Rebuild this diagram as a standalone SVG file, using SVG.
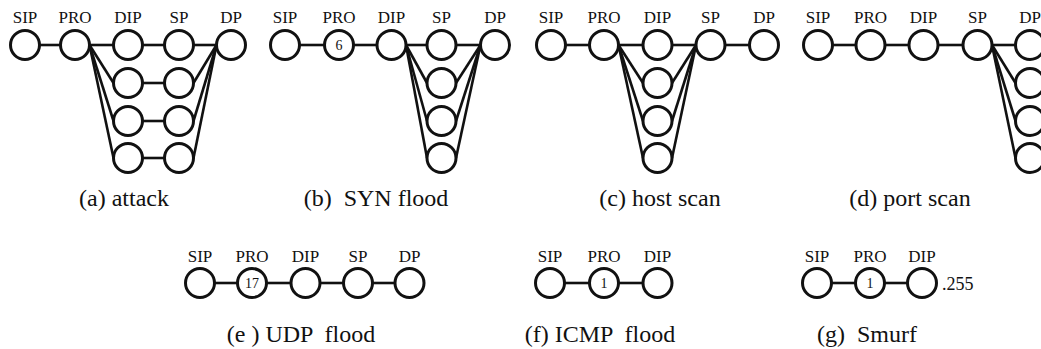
<svg xmlns="http://www.w3.org/2000/svg" width="1041" height="349" viewBox="0 0 1041 349">
<style>
.n{fill:#fff;stroke:#111;stroke-width:3}
.e line{stroke:#111;stroke-width:2.6}
.lb{font-family:"Liberation Serif",serif;font-size:17px;fill:#111;text-anchor:middle}
.num{font-family:"Liberation Serif",serif;font-size:14px;fill:#111;text-anchor:middle}
.cap{font-family:"Liberation Serif",serif;font-size:24px;fill:#111;text-anchor:middle;white-space:pre}
</style>
<rect width="1041" height="349" fill="#fff"/>
<g id="connectors" class="e">
<!-- a -->
<line x1="39.5" y1="45" x2="60.5" y2="45"/>
<line x1="89.5" y1="45" x2="113.5" y2="45"/>
<line x1="89.5" y1="45" x2="113.5" y2="83"/>
<line x1="89.5" y1="45" x2="113.5" y2="121"/>
<line x1="89.5" y1="45" x2="113.5" y2="158"/>
<line x1="142.5" y1="45" x2="164.5" y2="45"/>
<line x1="142.5" y1="83" x2="164.5" y2="83"/>
<line x1="142.5" y1="121" x2="164.5" y2="121"/>
<line x1="142.5" y1="158" x2="164.5" y2="158"/>
<line x1="193.5" y1="45" x2="216.5" y2="45"/>
<line x1="193.5" y1="83" x2="216.5" y2="45"/>
<line x1="193.5" y1="121" x2="216.5" y2="45"/>
<line x1="193.5" y1="158" x2="216.5" y2="45"/>
<!-- b -->
<line x1="299.5" y1="45" x2="324.5" y2="45"/>
<line x1="353.5" y1="45" x2="377" y2="45"/>
<line x1="406" y1="45" x2="427" y2="45"/>
<line x1="406" y1="45" x2="427" y2="83"/>
<line x1="406" y1="45" x2="427" y2="121"/>
<line x1="406" y1="45" x2="427" y2="158"/>
<line x1="456" y1="45" x2="480.5" y2="45"/>
<line x1="456" y1="83" x2="480.5" y2="45"/>
<line x1="456" y1="121" x2="480.5" y2="45"/>
<line x1="456" y1="158" x2="480.5" y2="45"/>
<!-- c -->
<line x1="565.5" y1="45" x2="589.5" y2="45"/>
<line x1="618.5" y1="45" x2="643" y2="45"/>
<line x1="618.5" y1="45" x2="643" y2="83"/>
<line x1="618.5" y1="45" x2="643" y2="121"/>
<line x1="618.5" y1="45" x2="643" y2="158"/>
<line x1="672" y1="45" x2="696" y2="45"/>
<line x1="672" y1="83" x2="696" y2="45"/>
<line x1="672" y1="121" x2="696" y2="45"/>
<line x1="672" y1="158" x2="696" y2="45"/>
<line x1="725" y1="45" x2="749.5" y2="45"/>
<!-- d -->
<line x1="832.5" y1="45" x2="856" y2="45"/>
<line x1="885" y1="45" x2="909" y2="45"/>
<line x1="938" y1="45" x2="963" y2="45"/>
<line x1="992" y1="45" x2="1015.5" y2="45"/>
<line x1="992" y1="45" x2="1015.5" y2="83"/>
<line x1="992" y1="45" x2="1015.5" y2="121"/>
<line x1="992" y1="45" x2="1015.5" y2="158"/>
<!-- e -->
<line x1="214.5" y1="283" x2="237.5" y2="283"/>
<line x1="266.5" y1="283" x2="291" y2="283"/>
<line x1="320" y1="283" x2="343.5" y2="283"/>
<line x1="372.5" y1="283" x2="395" y2="283"/>
<!-- f -->
<line x1="564.5" y1="283" x2="589.5" y2="283"/>
<line x1="618.5" y1="283" x2="643" y2="283"/>
<!-- g -->
<line x1="831.5" y1="283" x2="855.5" y2="283"/>
<line x1="884.5" y1="283" x2="907.5" y2="283"/>
</g>

<!-- panel a -->
<g id="a-sip"><circle class="n" cx="25" cy="45" r="14.5"/><text class="lb" x="25" y="23">SIP</text></g>
<g id="a-pro"><circle class="n" cx="75" cy="45" r="14.5"/><text class="lb" x="75" y="23">PRO</text></g>
<g id="a-dip1"><circle class="n" cx="128" cy="45" r="14.5"/><text class="lb" x="128" y="23">DIP</text></g>
<g id="a-dip2"><circle class="n" cx="128" cy="83" r="14.5"/></g>
<g id="a-dip3"><circle class="n" cx="128" cy="121" r="14.5"/></g>
<g id="a-dip4"><circle class="n" cx="128" cy="158" r="14.5"/></g>
<g id="a-sp1"><circle class="n" cx="179" cy="45" r="14.5"/><text class="lb" x="179" y="23">SP</text></g>
<g id="a-sp2"><circle class="n" cx="179" cy="83" r="14.5"/></g>
<g id="a-sp3"><circle class="n" cx="179" cy="121" r="14.5"/></g>
<g id="a-sp4"><circle class="n" cx="179" cy="158" r="14.5"/></g>
<g id="a-dp"><circle class="n" cx="231" cy="45" r="14.5"/><text class="lb" x="231" y="23">DP</text></g>
<text class="cap" x="124" y="206">(a) attack</text>

<!-- panel b -->
<g id="b-sip"><circle class="n" cx="285" cy="45" r="14.5"/><text class="lb" x="285" y="23">SIP</text></g>
<g id="b-pro"><circle class="n" cx="339" cy="45" r="14.5"/><text class="lb" x="339" y="23">PRO</text><text class="num" x="339" y="50">6</text></g>
<g id="b-dip"><circle class="n" cx="391.5" cy="45" r="14.5"/><text class="lb" x="391.5" y="23">DIP</text></g>
<g id="b-sp1"><circle class="n" cx="441.5" cy="45" r="14.5"/><text class="lb" x="441.5" y="23">SP</text></g>
<g id="b-sp2"><circle class="n" cx="441.5" cy="83" r="14.5"/></g>
<g id="b-sp3"><circle class="n" cx="441.5" cy="121" r="14.5"/></g>
<g id="b-sp4"><circle class="n" cx="441.5" cy="158" r="14.5"/></g>
<g id="b-dp"><circle class="n" cx="495" cy="45" r="14.5"/><text class="lb" x="495" y="23">DP</text></g>
<text class="cap" x="376" y="206">(b)  SYN flood</text>

<!-- panel c -->
<g id="c-sip"><circle class="n" cx="551" cy="45" r="14.5"/><text class="lb" x="551" y="23">SIP</text></g>
<g id="c-pro"><circle class="n" cx="604" cy="45" r="14.5"/><text class="lb" x="604" y="23">PRO</text></g>
<g id="c-dip1"><circle class="n" cx="657.5" cy="45" r="14.5"/><text class="lb" x="657.5" y="23">DIP</text></g>
<g id="c-dip2"><circle class="n" cx="657.5" cy="83" r="14.5"/></g>
<g id="c-dip3"><circle class="n" cx="657.5" cy="121" r="14.5"/></g>
<g id="c-dip4"><circle class="n" cx="657.5" cy="158" r="14.5"/></g>
<g id="c-sp"><circle class="n" cx="710.5" cy="45" r="14.5"/><text class="lb" x="710.5" y="23">SP</text></g>
<g id="c-dp"><circle class="n" cx="764" cy="45" r="14.5"/><text class="lb" x="764" y="23">DP</text></g>
<text class="cap" x="660" y="206">(c) host scan</text>

<!-- panel d -->
<g id="d-sip"><circle class="n" cx="818" cy="45" r="14.5"/><text class="lb" x="818" y="23">SIP</text></g>
<g id="d-pro"><circle class="n" cx="870.5" cy="45" r="14.5"/><text class="lb" x="870.5" y="23">PRO</text></g>
<g id="d-dip"><circle class="n" cx="923.5" cy="45" r="14.5"/><text class="lb" x="923.5" y="23">DIP</text></g>
<g id="d-sp"><circle class="n" cx="977.5" cy="45" r="14.5"/><text class="lb" x="977.5" y="23">SP</text></g>
<g id="d-dp1"><circle class="n" cx="1030" cy="45" r="14.5"/><text class="lb" x="1030" y="23">DP</text></g>
<g id="d-dp2"><circle class="n" cx="1030" cy="83" r="14.5"/></g>
<g id="d-dp3"><circle class="n" cx="1030" cy="121" r="14.5"/></g>
<g id="d-dp4"><circle class="n" cx="1030" cy="158" r="14.5"/></g>
<text class="cap" x="910" y="206">(d) port scan</text>

<!-- panel e -->
<g id="e-sip"><circle class="n" cx="200" cy="283" r="14.5"/><text class="lb" x="200" y="262">SIP</text></g>
<g id="e-pro"><circle class="n" cx="252" cy="283" r="14.5"/><text class="lb" x="252" y="262">PRO</text><text class="num" x="252" y="288">17</text></g>
<g id="e-dip"><circle class="n" cx="305.5" cy="283" r="14.5"/><text class="lb" x="305.5" y="262">DIP</text></g>
<g id="e-sp"><circle class="n" cx="358" cy="283" r="14.5"/><text class="lb" x="358" y="262">SP</text></g>
<g id="e-dp"><circle class="n" cx="409.5" cy="283" r="14.5"/><text class="lb" x="409.5" y="262">DP</text></g>
<text class="cap" x="301" y="342">(e ) UDP  flood</text>

<!-- panel f -->
<g id="f-sip"><circle class="n" cx="550" cy="283" r="14.5"/><text class="lb" x="550" y="262">SIP</text></g>
<g id="f-pro"><circle class="n" cx="604" cy="283" r="14.5"/><text class="lb" x="604" y="262">PRO</text><text class="num" x="604" y="288">1</text></g>
<g id="f-dip"><circle class="n" cx="657.5" cy="283" r="14.5"/><text class="lb" x="657.5" y="262">DIP</text></g>
<text class="cap" x="600" y="342">(f) ICMP  flood</text>

<!-- panel g -->
<g id="g-sip"><circle class="n" cx="817" cy="283" r="14.5"/><text class="lb" x="817" y="262">SIP</text></g>
<g id="g-pro"><circle class="n" cx="870" cy="283" r="14.5"/><text class="lb" x="870" y="262">PRO</text><text class="num" x="870" y="288">1</text></g>
<g id="g-dip"><circle class="n" cx="922" cy="283" r="14.5"/><text class="lb" x="922" y="262">DIP</text><text class="lb" x="942" y="290" style="text-anchor:start;font-size:18px">.255</text></g>
<text class="cap" x="867" y="342">(g)  Smurf</text>
</svg>
